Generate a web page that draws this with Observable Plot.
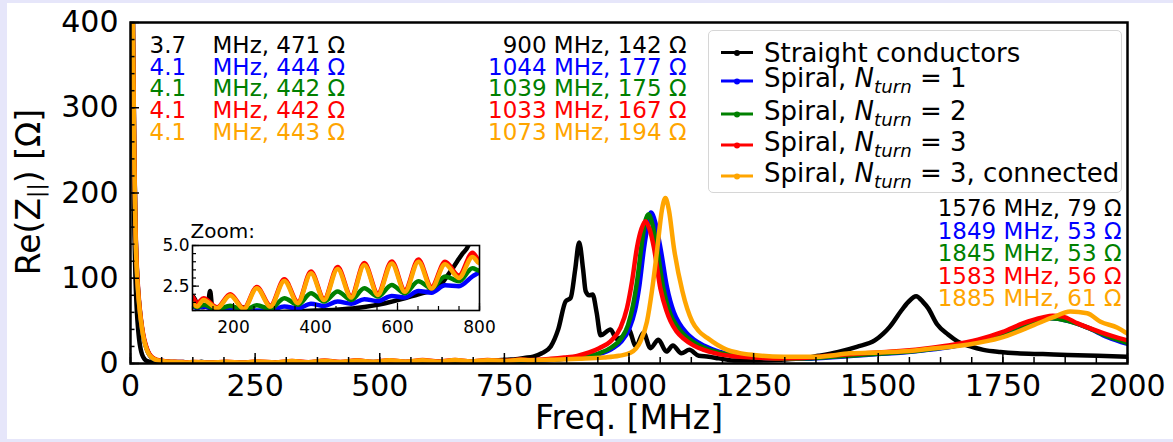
<!DOCTYPE html>
<html>
<head>
<meta charset="utf-8">
<script src="https://cdn.jsdelivr.net/npm/d3@7"></script>
<script src="https://cdn.jsdelivr.net/npm/@observablehq/plot@0.6"></script>
<style>
  body { margin: 0; background: #e6e6fa; width: 1173px; height: 442px; overflow: hidden; font-family: "DejaVu Sans", sans-serif; }
  #panel { position: absolute; left: 7px; top: 3px; width: 1166px; height: 436px; background: #fff; }
  #panel > svg { position: absolute; }
  .legend { position: absolute; left: 701px; top: 27px; width: 414px; height: 163px; box-sizing: border-box;
            border: 1px solid #d6d6d6; border-radius: 5px; background: rgba(255,255,255,0.8); }
  .row { position: absolute; left: 0; display: flex; align-items: center; font-size: 26px; line-height: 1;
         white-space: nowrap; transform: translateY(-50%); color: #000; }
  .swatch { position: relative; width: 32px; height: 3px; margin-left: 12px; margin-right: 11px; }
  .swatch::after { content: ""; position: absolute; left: 13px; top: -1.5px; width: 6px; height: 6px; border-radius: 50%; background: inherit; }
  .row sub { font-size: 0.7em; vertical-align: -0.32em; font-style: italic; }
  .row i { font-style: italic; }
</style>
</head>
<body>
<div id="panel"></div>
<script>
// ---- series: frequency [MHz] and Re(Z) [Ohm] ----
const straightFreq = [3.7,5,6,7,8,10,12,14,17,20,23,26,30,35,40,50,60,70,80,90,100,110,125,138,143,148,160,200,222,240,300,350,400,450,500,540,570,610,651,680,700,715,732,745,757,773,790,808,825,843,858,873,883,892,900,908,913,920,927,935,943,963,975,987,999,1014,1029,1043,1059,1075,1088,1105,1121,1140,1160,1180,1210,1250,1300,1350,1380,1420,1457,1493,1510,1523,1545,1560,1576,1590,1600,1618,1640,1659,1685,1711,1745,1779,1830,1880,1940,2000];
const straightZ    = [471,330,250,190,150,100,70,50,30,18,11,7,4,2.5,1.8,1.3,1.1,1.1,1.3,1.7,1.9,1.5,1.2,1.5,2.2,1.2,0.9,0.95,1.2,0.9,0.9,0.95,1.0,1.05,1.15,1.3,1.45,1.7,2.0,2.2,2.4,2.9,3.5,4.0,4.45,5.0,6.5,8,12,20,40,73,77,110,142,110,85,80,81,60,33,40,29,31,40,20,36,18,28,14,21,12,16,9,8,6,3.5,3.5,4.5,6,9,13.7,19.6,27,35,43,61,72,79,72,65,46,34,26,20,16,13.5,12,11,10,9,8];

const spiral1Freq = [4.1,5,6,7,8,10,12,15,18,21,25,30,35,40,45,50,60,70,80,90,100,111,127,160,192,225,257,290,324,357,389,421,454,487,519,552,586,618,651,683,716,750,783,800,850,900,940,965,985,1000,1012,1021,1030,1038,1044,1052,1063,1076,1090,1100,1115,1130,1150,1180,1220,1260,1300,1350,1400,1450,1500,1550,1600,1650,1700,1750,1800,1849,1880,1920,1960,2000];
const spiral1Z    = [444,393,333,278,228,158,120,87,66,50,34,21.5,13.5,8.5,6,4.4,3.0,2.2,1.8,1.5,1.3,1.15,1.25,1.0,1.05,0.95,1.0,1.0,1.25,1.12,1.42,1.28,1.55,1.42,1.7,1.58,1.9,1.8,2.2,2.1,2.55,2.5,3.1,3.35,4.5,7,11,17,26,40,62,92,135,163,177,167,136,90,60,48,36,28,21,14,9.5,7,5.5,5.5,7,9,11,13,16,20,26,35,46,53,50,42,31,23];

const spiral2Freq = [4.1,5,6,7,8,10,12,15,18,21,25,30,35,40,45,50,60,70,80,90,100,111,127,160,192,225,257,290,324,357,389,421,454,487,519,552,586,618,651,683,716,750,783,800,850,900,940,965,985,998,1008,1017,1025,1032,1039,1047,1056,1069,1083,1095,1110,1125,1145,1175,1215,1260,1300,1350,1400,1450,1500,1550,1600,1650,1700,1750,1800,1845,1880,1920,1960,2000];
const spiral2Z    = [442,391,332,277,228,158,120,87,66,50,34,21.5,13.5,8.6,6,4.5,3.1,2.3,1.9,1.6,1.35,1.2,1.35,1.05,1.3,1.0,1.32,1.1,1.76,1.35,2.06,1.55,2.17,1.65,2.37,1.86,2.57,2.06,2.8,2.37,3.1,2.8,3.6,3.45,4.8,7.5,12,19,30,45,68,100,138,165,175,163,136,88,58,45,34,27,20,13.5,9,7,5.5,5.8,7.5,9.5,11.5,13.5,16.5,20.5,27,36,47,53,50,42,32,24];

const spiral3Freq = [4.1,5,6,7,8,10,12,15,18,21,25,30,35,40,45,50,60,70,80,90,100,111,127,160,192,225,257,290,324,357,389,421,454,487,519,552,586,618,651,683,716,750,783,800,843,870,896,920,940,963,983,996,1006,1016,1025,1033,1041,1050,1063,1075,1083,1095,1110,1130,1150,1180,1210,1250,1300,1350,1400,1450,1500,1550,1600,1650,1700,1750,1790,1830,1850,1870,1900,1950,2000];
const spiral3Z    = [442,392,335,280,232,162,124,90,68,52,36,23,14.5,9.5,6.7,5,3.5,2.7,2.2,1.95,1.85,1.45,1.75,1.2,2.0,1.15,2.45,1.3,2.92,1.52,3.4,1.72,3.68,1.88,3.92,2.05,4.02,2.25,4.14,2.45,4.0,3.15,4.55,4.1,5.5,7,9,13,18,26,42,65,96,136,158,167,158,136,88,62,50,38,29,21,16,11,8.5,7,6,6.5,9,11,13,15,18,22,28,37,47,54,56,55,47,36,27];

const spiral3cFreq = [4.1,5,6,7,8,10,12,15,18,21,25,30,35,40,45,50,60,70,80,90,100,111,127,160,192,225,257,290,324,357,389,421,454,487,519,552,586,618,651,683,716,750,783,800,850,900,950,980,1003,1023,1036,1046,1057,1066,1073,1080,1090,1107,1127,1140,1157,1177,1197,1220,1250,1310,1377,1444,1500,1545,1600,1678,1745,1812,1850,1885,1919,1946,1980,2000];
const spiral3cZ    = [443,390,330,275,225,155,118,86,65,50,34,21,13,8.5,6,4.5,3.2,2.5,2.0,1.7,1.45,1.25,1.65,1.14,1.92,1.1,2.37,1.24,2.82,1.45,3.29,1.65,3.55,1.8,3.8,1.96,3.9,2.15,4.0,2.35,3.85,3.0,4.3,3.9,4.5,5.5,7,9,12.5,26,49,85,136,180,194,180,136,85,49,38,30,22,16,12.5,10,8,8,12,13,14,17,22,30,45,54,61,59,49,42,35];

const seriesNames  = ["Straight conductors", "Spiral, N_turn = 1", "Spiral, N_turn = 2", "Spiral, N_turn = 3", "Spiral, N_turn = 3, connected"];
const seriesColors = ["black", "blue", "green", "red", "orange"];

// ---- resonance annotations ----
const lowPeakF  = [3.7, 4.1, 4.1, 4.1, 4.1];
const lowPeakZ  = [471, 444, 442, 442, 443];
const midPeakF  = [900, 1044, 1039, 1033, 1073];
const midPeakZ  = [142, 177, 175, 167, 194];
const highPeakF = [1576, 1849, 1845, 1583, 1885];
const highPeakZ = [79, 53, 53, 56, 61];

// ---- axis ticks ----
const xTicks = [0, 250, 500, 750, 1000, 1250, 1500, 1750, 2000];
const yTicks = [0, 100, 200, 300, 400];
const insetXTicks = [200, 400, 600, 800];
const insetYTicks = [2.5, 5.0];

const series = [
  [straightFreq, straightZ],
  [spiral1Freq, spiral1Z],
  [spiral2Freq, spiral2Z],
  [spiral3Freq, spiral3Z],
  [spiral3cFreq, spiral3cZ]
].map(([f, z], k) => ({color: seriesColors[k], rows: f.map((v, i) => ({freq: v, z: z[i]}))}));

const font = "DejaVu Sans";
const panel = document.getElementById("panel");

// ---------------- main chart ----------------
const mainW = 1166, mainH = 436;
const xMinor = d3.range(0, 2000 + 1e-9, 62.5);
const yMinor = d3.range(0, 400 + 1e-9, 20);
const pxPerX = 997 / 2000, pxPerY = 341 / 400;

const annotationMarks = [];
seriesColors.forEach((c, i) => {
  const common = {frameAnchor: "top-left", lineAnchor: "middle", fill: c, fontSize: 23};
  annotationMarks.push(
    Plot.text([lowPeakF[i]], {...common, text: d => String(d), textAnchor: "start", dx: 19, dy: 23 + i * 21.7}),
    Plot.text([lowPeakZ[i]], {...common, text: d => `MHz, ${d} Ω`, textAnchor: "start", dx: 82, dy: 23 + i * 21.7}),
    Plot.text([i], {...common, text: d => `${midPeakF[d]} MHz, ${midPeakZ[d]} Ω`, textAnchor: "end", dx: 556, dy: 23 + i * 21.7}),
    Plot.text([i], {...common, frameAnchor: "top-right", text: d => `${highPeakF[d]} MHz, ${highPeakZ[d]} Ω`, textAnchor: "end", dx: -6, dy: 186.5 + i * 22.5})
  );
});

const main = Plot.plot({
  width: mainW, height: mainH,
  marginLeft: 123, marginRight: 46, marginTop: 19, marginBottom: 76,
  style: {fontFamily: font, background: "transparent", color: "black", overflow: "visible"},
  x: {domain: [0, 2000]},
  y: {domain: [0, 400]},
  marks: [
    ...series.map(s => Plot.line(s.rows, {x: "freq", y: "z", stroke: s.color, strokeWidth: 4.5, curve: "monotone-x", clip: true})),
    Plot.ruleX(xMinor, {x: d => d, y1: 0, y2: 6 / pxPerY, stroke: "black", strokeWidth: 1.5}),
    Plot.ruleX(xTicks, {x: d => d, y1: 0, y2: 10 / pxPerY, stroke: "black", strokeWidth: 1.5}),
    Plot.ruleY(yMinor, {y: d => d, x1: 0, x2: 4.5 / pxPerX, stroke: "black", strokeWidth: 1.5}),
    Plot.ruleY(yTicks, {y: d => d, x1: 0, x2: 9 / pxPerX, stroke: "black", strokeWidth: 1.5}),
    Plot.frame({stroke: "black", strokeWidth: 2.5}),
    Plot.axisX({ticks: xTicks, tickSize: 0, tickPadding: 11, tickFormat: d => String(d), fontSize: 30, label: null}),
    Plot.axisY({ticks: yTicks, tickSize: 0, tickPadding: 12, tickFormat: d => String(d), fontSize: 30, label: null}),
    Plot.text(["Freq. [MHz]"], {frameAnchor: "bottom", lineAnchor: "middle", dy: 55, fontSize: 33, fill: "black"}),
    ...annotationMarks
  ]
});
main.style.left = "0px";
main.style.top = "0px";
panel.appendChild(main);

// y-axis title with subscript
const yTitle = d3.select(main).append("text")
  .attr("transform", "translate(21,189) rotate(-90)")
  .attr("text-anchor", "middle")
  .attr("dominant-baseline", "central")
  .attr("font-family", font)
  .attr("font-size", 33)
  .attr("fill", "black");
yTitle.append("tspan").text("Re(Z");
yTitle.append("tspan").attr("font-size", 22).attr("dy", 7).text("||");
yTitle.append("tspan").attr("dy", -7).text(") [Ω]");

// ---------------- inset: low-frequency zoom ----------------
const insetMinorX = d3.range(100, 800 + 1e-9, 50);
const insetMinorY = d3.range(1, 5 + 1e-9, 0.5);
const insetPxX = 287 / 700, insetPxY = 65 / 4;
const inset = Plot.plot({
  width: 340, height: 130,
  marginLeft: 40, marginRight: 13, marginTop: 37, marginBottom: 28,
  style: {fontFamily: font, background: "transparent", color: "black", overflow: "visible"},
  x: {domain: [100, 800]},
  y: {domain: [1, 5]},
  marks: [
    Plot.frame({fill: "white"}),
    ...series.map(s => Plot.line(s.rows.filter(r => r.freq >= 60 && r.freq <= 900), {x: "freq", y: "z", stroke: s.color, strokeWidth: 4.5, curve: "monotone-x", clip: true})),
    Plot.ruleX(insetMinorX, {x: d => d, y1: 1, y2: 1 + 4 / insetPxY, stroke: "black", strokeWidth: 1.2}),
    Plot.ruleX(insetXTicks, {x: d => d, y1: 1, y2: 1 + 7 / insetPxY, stroke: "black", strokeWidth: 1.2}),
    Plot.ruleY(insetMinorY, {y: d => d, x1: 100, x2: 100 + 4 / insetPxX, stroke: "black", strokeWidth: 1.2}),
    Plot.ruleY(insetYTicks, {y: d => d, x1: 100, x2: 100 + 7 / insetPxX, stroke: "black", strokeWidth: 1.2}),
    Plot.frame({stroke: "black", strokeWidth: 1.6}),
    Plot.axisX({ticks: insetXTicks, tickSize: 0, tickPadding: 10, tickFormat: d => String(d), fontSize: 17, label: null}),
    Plot.axisY({ticks: insetYTicks, tickSize: 0, tickPadding: 3, tickFormat: d => d.toFixed(1), fontSize: 17, label: null}),
    Plot.text(["Zoom:"], {frameAnchor: "top-left", lineAnchor: "middle", textAnchor: "start", dx: -2, dy: -14, fontSize: 20, fill: "black"})
  ]
});
inset.style.left = "145px";
inset.style.top = "205px";
panel.appendChild(inset);

// ---------------- legend ----------------
const legend = document.createElement("div");
legend.className = "legend";
const rowCenters = [21.7, 50, 83.3, 114, 145];
seriesNames.forEach((name, i) => {
  const row = document.createElement("div");
  row.className = "row";
  row.style.top = rowCenters[i] + "px";
  const sw = document.createElement("span");
  sw.className = "swatch";
  sw.style.background = seriesColors[i];
  row.appendChild(sw);
  const label = document.createElement("span");
  const m = name.match(/^(.*?)N_turn(.*)$/);
  if (m) {
    label.append(m[1]);
    const n = document.createElement("i"); n.textContent = "N"; label.appendChild(n);
    const sub = document.createElement("sub"); sub.textContent = "turn"; label.appendChild(sub);
    label.append(m[2]);
  } else {
    label.textContent = name;
  }
  row.appendChild(label);
  legend.appendChild(row);
});
panel.appendChild(legend);
</script>
</body>
</html>
